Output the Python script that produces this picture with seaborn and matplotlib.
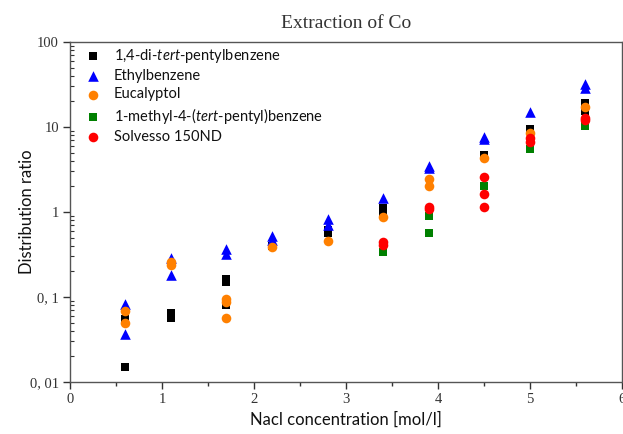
import matplotlib
matplotlib.use("Agg")
import matplotlib.pyplot as plt
import matplotlib.ticker as mticker
import numpy as np
import pandas as pd
import seaborn as sns

# Solvent names (mathtext italics for the "tert" prefix)
solvents = [
    r"1,4-di-$\it{tert}$-pentylbenzene",
    "Ethylbenzene",
    "Eucalyptol",
    r"1-methyl-4-($\it{tert}$-pentyl)benzene",
    "Solvesso 150ND",
]

# NaCl concentration [mol/l] and distribution ratio D(Co), per solvent
di_tert_x = [0.6, 0.6, 1.1, 1.1, 1.7, 1.7, 1.7, 2.2, 2.8, 2.8, 3.4, 3.4, 4.5, 5.0, 5.6, 5.6]
di_tert_d = [0.055, 0.015, 0.065, 0.057, 0.165, 0.150, 0.08, 0.40, 0.57, 0.62, 1.1, 1.0, 4.7, 9.5, 19.0, 15.5]

ethyl_x = [0.6, 0.6, 1.1, 1.1, 1.7, 1.7, 2.2, 2.2, 2.8, 2.8, 3.4, 3.9, 3.9, 4.5, 4.5, 5.0, 5.6, 5.6]
ethyl_d = [0.083, 0.037, 0.29, 0.18, 0.37, 0.32, 0.52, 0.47, 0.82, 0.70, 1.45, 3.5, 3.3, 7.6, 7.3, 15.0, 32.0, 29.0]

eucal_x = [0.6, 0.6, 1.1, 1.1, 1.7, 1.7, 1.7, 2.2, 2.8, 3.4, 3.9, 3.9, 4.5, 5.0, 5.6]
eucal_d = [0.068, 0.049, 0.26, 0.24, 0.095, 0.088, 0.056, 0.39, 0.46, 0.88, 2.45, 2.0, 4.3, 8.5, 17.0]

methyl_x = [3.4, 3.9, 3.9, 4.5, 5.0, 5.6]
methyl_d = [0.34, 0.9, 0.56, 2.0, 5.5, 10.3]

solvesso_x = [3.4, 3.4, 3.9, 3.9, 4.5, 4.5, 4.5, 5.0, 5.0, 5.6, 5.6]
solvesso_d = [0.44, 0.41, 1.15, 1.08, 2.55, 1.65, 1.15, 7.4, 6.6, 12.8, 12.0]

series_x = [di_tert_x, ethyl_x, eucal_x, methyl_x, solvesso_x]
series_d = [di_tert_d, ethyl_d, eucal_d, methyl_d, solvesso_d]

colors = ["#000000", "#0000FF", "#FF8000", "#008000", "#FF0000"]
markers = ["s", "^", "o", "s", "o"]
sizes = [38, 58, 48, 38, 48]

df = pd.concat(
    [pd.DataFrame({"conc": x, "D": d, "solvent": name})
     for name, x, d in zip(solvents, series_x, series_d)],
    ignore_index=True,
)

sns.set_theme(style="ticks")
plt.rcParams["mathtext.fontset"] = "custom"
plt.rcParams["mathtext.it"] = "Lato:italic"
plt.rcParams["mathtext.rm"] = "Lato"

fig = plt.figure(figsize=(6.23, 4.34), dpi=100)
ax = fig.add_axes([0.1124, 0.1198, 0.8860, 0.7834])

for name, c, m, s in zip(solvents, colors, markers, sizes):
    sub = df[df["solvent"] == name]
    sns.scatterplot(data=sub, x="conc", y="D", color=c, marker=m, s=s,
                    linewidth=0, ax=ax, label=name, zorder=3)

ax.set_yscale("log")
ax.set_xlim(0, 6)
ax.set_ylim(0.01, 100)

ax.xaxis.set_major_locator(mticker.MultipleLocator(1))
ax.xaxis.set_minor_locator(mticker.MultipleLocator(0.5))
ax.yaxis.set_minor_locator(mticker.LogLocator(base=10, subs=np.arange(2, 10), numticks=20))
ax.yaxis.set_minor_formatter(mticker.NullFormatter())
ytick_vals = [0.01, 0.1, 1, 10, 100]
ytick_labels = ["0, 01", "0, 1", "1", "10", "100"]
ax.set_yticks(ytick_vals)
ax.set_yticklabels(ytick_labels)

for lab in ax.get_xticklabels() + ax.get_yticklabels():
    lab.set_fontfamily("Liberation Serif")
    lab.set_fontsize(10.5)
    lab.set_color("#333333")

ax.tick_params(axis="both", which="major", direction="out", length=5, width=1,
               color="#333333", pad=3)
ax.tick_params(axis="x", which="minor", direction="out", length=3, width=1, color="#333333")
ax.tick_params(axis="y", which="minor", direction="in", length=3, width=0.8, color="#333333")

for sp in ax.spines.values():
    sp.set_color("#555555")
    sp.set_linewidth(1.0)

ax.set_xlabel("Nacl concentration [mol/l]", fontfamily="Lato", fontsize=12,
              color="#111111")
ax.xaxis.set_label_coords(0.5, -0.088)
ax.set_ylabel("Distribution ratio", fontfamily="Lato", fontsize=12,
              color="#111111")
ax.yaxis.set_label_coords(-0.063, 0.5)
ax.set_title("Extraction of Co", fontfamily="Liberation Serif", fontsize=14,
             color="#333333", pad=10)

leg = ax.legend(loc="upper left", bbox_to_anchor=(0.0, 1.012), frameon=False,
                prop={"family": "Lato", "size": 10.5}, handletextpad=0.4,
                labelspacing=0.3, borderaxespad=0.2, handlelength=2.0,
                borderpad=0.4)
for t in leg.get_texts():
    t.set_color("#111111")

fig.savefig("out.png", dpi=100)
